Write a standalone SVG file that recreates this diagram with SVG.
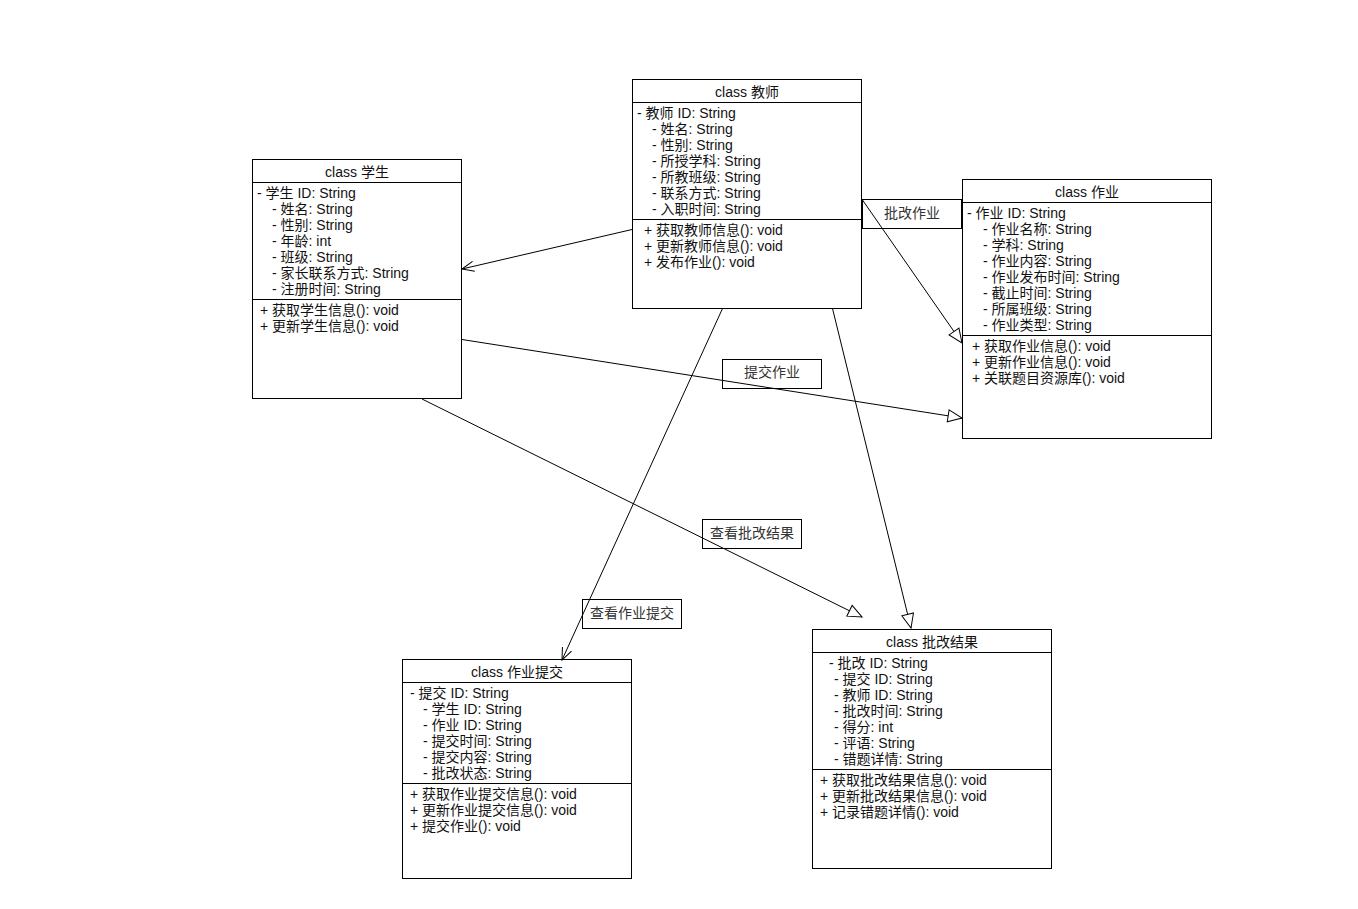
<svg xmlns="http://www.w3.org/2000/svg" width="1358" height="909" viewBox="0 0 1358 909">
<style>
.box{fill:#fff;stroke:#000;stroke-width:1}
.sep{stroke:#000;stroke-width:1}
text{font-family:"Liberation Sans","Noto Sans CJK SC",sans-serif;font-size:14px;fill:#111}
.h{text-anchor:middle}
.lbl{fill:none;stroke:#000;stroke-width:1}
.lt{font-family:"Liberation Serif","Noto Sans CJK SC",serif;font-size:14px;fill:#333;text-anchor:middle}
.c{stroke:#000;stroke-width:1;fill:none}
</style>
<defs>
<marker id="open" viewBox="0 0 14 12" refX="13" refY="6" markerWidth="14" markerHeight="12" markerUnits="userSpaceOnUse" orient="auto">
<path d="M1,1 L13,6 L1,11" fill="none" stroke="#000" stroke-width="1"/>
</marker>
<marker id="tri" viewBox="0 0 16 14" refX="15" refY="7" markerWidth="16" markerHeight="14" markerUnits="userSpaceOnUse" orient="auto">
<path d="M1,1 L15,7 L1,13 Z" fill="#fff" stroke="#000" stroke-width="1"/>
</marker>
</defs>
<rect width="1358" height="909" fill="#fff"/>

<g id="teacher">
<rect class="box" x="632.5" y="79.5" width="229" height="229"/>
<line class="sep" x1="632.5" y1="102.5" x2="861.5" y2="102.5"/>
<line class="sep" x1="632.5" y1="219.5" x2="861.5" y2="219.5"/>
<text class="h" x="747" y="97">class 教师</text>
<text x="637" y="118">- 教师 ID: String</text>
<text x="652" y="134">- 姓名: String</text>
<text x="652" y="150">- 性别: String</text>
<text x="652" y="166">- 所授学科: String</text>
<text x="652" y="182">- 所教班级: String</text>
<text x="652" y="198">- 联系方式: String</text>
<text x="652" y="214">- 入职时间: String</text>
<text x="644" y="235">+ 获取教师信息(): void</text>
<text x="644" y="251">+ 更新教师信息(): void</text>
<text x="644" y="267">+ 发布作业(): void</text>
</g>

<g id="student">
<rect class="box" x="252.5" y="159.5" width="209" height="239"/>
<line class="sep" x1="252.5" y1="182.5" x2="461.5" y2="182.5"/>
<line class="sep" x1="252.5" y1="299.5" x2="461.5" y2="299.5"/>
<text class="h" x="357" y="177">class 学生</text>
<text x="257" y="198">- 学生 ID: String</text>
<text x="272" y="214">- 姓名: String</text>
<text x="272" y="230">- 性别: String</text>
<text x="272" y="246">- 年龄: int</text>
<text x="272" y="262">- 班级: String</text>
<text x="272" y="278">- 家长联系方式: String</text>
<text x="272" y="294">- 注册时间: String</text>
<text x="260" y="315">+ 获取学生信息(): void</text>
<text x="260" y="331">+ 更新学生信息(): void</text>
</g>

<g id="homework">
<rect class="box" x="962.5" y="179.5" width="249" height="259"/>
<line class="sep" x1="962.5" y1="202.5" x2="1211.5" y2="202.5"/>
<line class="sep" x1="962.5" y1="335.5" x2="1211.5" y2="335.5"/>
<text class="h" x="1087" y="197">class 作业</text>
<text x="967" y="218">- 作业 ID: String</text>
<text x="983" y="234">- 作业名称: String</text>
<text x="983" y="250">- 学科: String</text>
<text x="983" y="266">- 作业内容: String</text>
<text x="983" y="282">- 作业发布时间: String</text>
<text x="983" y="298">- 截止时间: String</text>
<text x="983" y="314">- 所属班级: String</text>
<text x="983" y="330">- 作业类型: String</text>
<text x="972" y="351">+ 获取作业信息(): void</text>
<text x="972" y="367">+ 更新作业信息(): void</text>
<text x="972" y="383">+ 关联题目资源库(): void</text>
</g>

<g id="submission">
<rect class="box" x="402.5" y="659.5" width="229" height="219"/>
<line class="sep" x1="402.5" y1="682.5" x2="631.5" y2="682.5"/>
<line class="sep" x1="402.5" y1="783.5" x2="631.5" y2="783.5"/>
<text class="h" x="517" y="677">class 作业提交</text>
<text x="410" y="698">- 提交 ID: String</text>
<text x="423" y="714">- 学生 ID: String</text>
<text x="423" y="730">- 作业 ID: String</text>
<text x="423" y="746">- 提交时间: String</text>
<text x="423" y="762">- 提交内容: String</text>
<text x="423" y="778">- 批改状态: String</text>
<text x="410" y="799">+ 获取作业提交信息(): void</text>
<text x="410" y="815">+ 更新作业提交信息(): void</text>
<text x="410" y="831">+ 提交作业(): void</text>
</g>

<g id="result">
<rect class="box" x="812.5" y="629.5" width="239" height="239"/>
<line class="sep" x1="812.5" y1="652.5" x2="1051.5" y2="652.5"/>
<line class="sep" x1="812.5" y1="769.5" x2="1051.5" y2="769.5"/>
<text class="h" x="932" y="647">class 批改结果</text>
<text x="829" y="668">- 批改 ID: String</text>
<text x="834" y="684">- 提交 ID: String</text>
<text x="834" y="700">- 教师 ID: String</text>
<text x="834" y="716">- 批改时间: String</text>
<text x="834" y="732">- 得分: int</text>
<text x="834" y="748">- 评语: String</text>
<text x="834" y="764">- 错题详情: String</text>
<text x="820" y="785">+ 获取批改结果信息(): void</text>
<text x="820" y="801">+ 更新批改结果信息(): void</text>
<text x="820" y="817">+ 记录错题详情(): void</text>
</g>

<g id="labels">
<rect class="lbl" x="862.5" y="199.5" width="99" height="29"/>
<text class="lt" x="912" y="218">批改作业</text>
<rect class="lbl" x="722.5" y="359.5" width="99" height="29"/>
<text class="lt" x="772" y="377">提交作业</text>
<rect class="lbl" x="702.5" y="519.5" width="99" height="29"/>
<text class="lt" x="752" y="538">查看批改结果</text>
<rect class="lbl" x="582.5" y="599.5" width="99" height="29"/>
<text class="lt" x="632" y="618">查看作业提交</text>
</g>

<g id="connectors">
<line class="c" x1="632" y1="229.5" x2="462" y2="269" marker-end="url(#open)"/>
<line class="c" x1="862.5" y1="200" x2="962" y2="343" marker-end="url(#tri)"/>
<line class="c" x1="462" y1="339.5" x2="962" y2="418" marker-end="url(#tri)"/>
<line class="c" x1="422" y1="399" x2="862" y2="617" marker-end="url(#tri)"/>
<line class="c" x1="722.5" y1="308.5" x2="562" y2="660" marker-end="url(#open)"/>
<line class="c" x1="832.5" y1="308.5" x2="911" y2="628" marker-end="url(#tri)"/>
</g>
</svg>
